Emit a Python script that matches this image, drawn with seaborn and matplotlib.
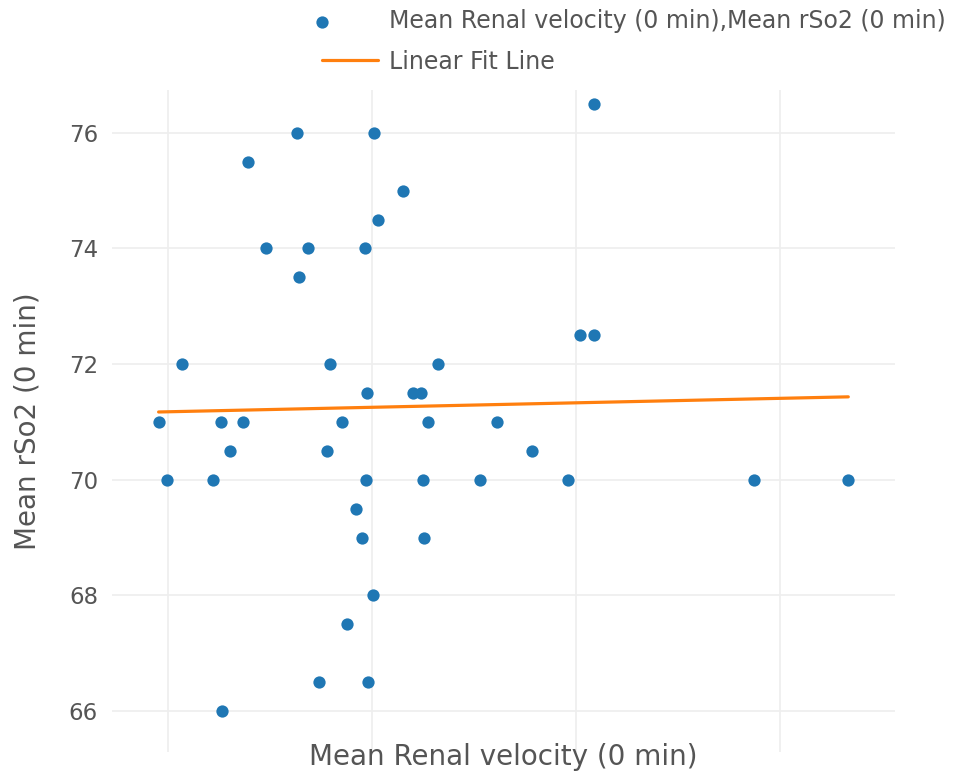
import numpy as np
import pandas as pd
import matplotlib
matplotlib.use("Agg")
import matplotlib.pyplot as plt
from matplotlib.collections import PathCollection
from matplotlib.legend_handler import HandlerPathCollection
import seaborn as sns

# Data (x axis units unlabeled in the source)
renal_velocity = [16.31, 20.10, 13.94, 21.54, 20.31, 14.80, 16.85, 19.66, 16.44,
                  10.70, 17.94, 23.25, 30.88, 30.20, 30.88, 19.74, 22.03, 22.39,
                  9.54, 12.58, 13.69, 18.54, 22.76, 26.11, 13.04, 17.78, 27.86,
                  9.93, 12.19, 19.69, 22.48, 25.29, 29.62, 38.73, 43.35,
                  19.20, 19.53, 22.55, 20.07, 18.79, 17.39, 19.82, 12.66]
rso2 = [76.0, 76.0, 75.5, 75.0, 74.5, 74.0, 74.0, 74.0, 73.5,
        72.0, 72.0, 72.0, 76.5, 72.5, 72.5, 71.5, 71.5, 71.5,
        71.0, 71.0, 71.0, 71.0, 71.0, 71.0, 70.5, 70.5, 70.5,
        70.0, 70.0, 70.0, 70.0, 70.0, 70.0, 70.0, 70.0,
        69.5, 69.0, 69.0, 68.0, 67.5, 66.5, 66.5, 66.0]
y_ticks = [66, 68, 70, 72, 74, 76]
x_grid = [10, 20, 30, 40]

df = pd.DataFrame({"x": renal_velocity, "y": rso2})

sns.set_theme(style="white")
plt.rcParams["font.family"] = ["DejaVu Sans"]

fig = plt.figure(figsize=(9.68, 7.76), dpi=100)
ax = fig.add_axes([112 / 968, 1 - 752 / 776, (895 - 112) / 968, (752 - 90) / 776])

ax.set_xlim(7.255, 45.64)
ax.set_ylim(65.29, 76.74)
ax.set_xticks(x_grid)
ax.set_xticklabels([])
ax.set_yticks(y_ticks)
ax.set_yticklabels([str(t) for t in y_ticks])
ax.grid(True, color="#eeeeee", linewidth=1.2)
ax.set_axisbelow(True)
for s in ax.spines.values():
    s.set_visible(False)
ax.tick_params(axis="both", length=0)
ax.tick_params(axis="y", pad=10, labelsize=16.5, labelcolor="#555555")

sns.scatterplot(data=df, x="x", y="y", ax=ax, color="#1f77b4", s=78,
                linewidth=0, label="Mean Renal velocity (0 min),Mean rSo2 (0 min)",
                zorder=3)
sns.regplot(data=df, x="x", y="y", ax=ax, scatter=False, ci=None,
            color="#ff7f0e", line_kws={"linewidth": 2.3, "zorder": 2},
            label="Linear Fit Line", truncate=True)

ax.set_xlabel("Mean Renal velocity (0 min)", fontsize=20, color="#555555")
ax.set_ylabel("Mean rSo2 (0 min)", fontsize=20, color="#555555")
ax.xaxis.set_label_coords(0.5, -0.008)
ax.xaxis.label.set_va("center")
ax.yaxis.set_label_coords(-0.108, 0.5)
ax.yaxis.label.set_va("center")

leg = ax.legend(loc="upper left", bbox_to_anchor=(313 / 968, 1.0),
                bbox_transform=fig.transFigure, frameon=False, fontsize=17,
                borderpad=0.37, borderaxespad=0, handlelength=2.4,
                handletextpad=0.45, labelspacing=0.72,
                handler_map={PathCollection: HandlerPathCollection(xpad=-2.4)})
for t in leg.get_texts():
    t.set_color("#555555")

fig.savefig("out.png", dpi=100)
